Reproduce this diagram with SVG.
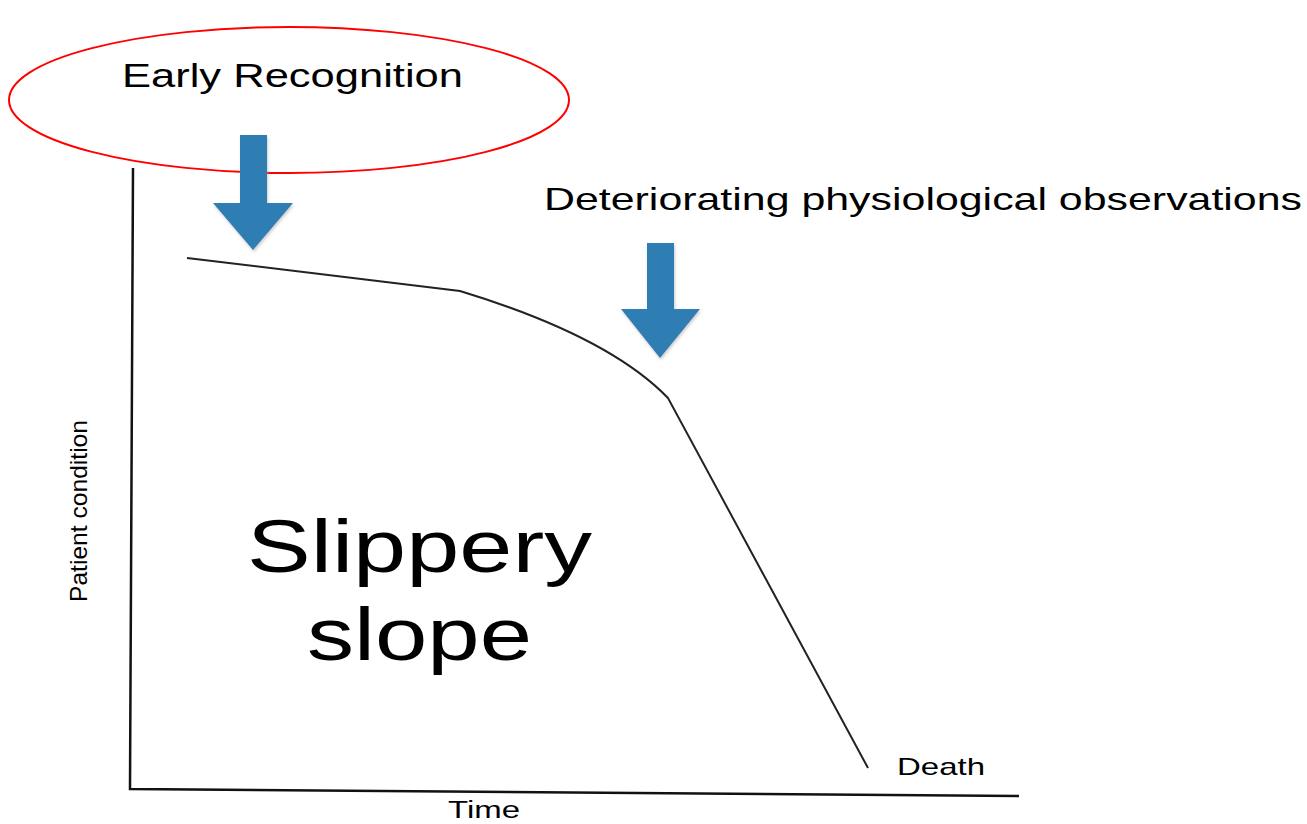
<svg xmlns="http://www.w3.org/2000/svg" width="1307" height="824" viewBox="0 0 1307 824">
<style>
text{font-family:"Liberation Sans",Arial,sans-serif;fill:#000}
.arrow{fill:#2e7db3;filter:url(#glow)}
.axis{stroke:#111;stroke-width:2.5;fill:none}
.curve{stroke:#222;stroke-width:2;fill:none}
</style>
<defs>
<filter id="glow" x="-20%" y="-20%" width="140%" height="140%">
<feDropShadow dx="1" dy="2" stdDeviation="1.5" flood-color="#999" flood-opacity="0.5"/>
</filter>
</defs>
<rect width="1307" height="824" fill="#fff"/>
<g id="axes">
<path class="axis" d="M133,168 L130,789 L1019,796"/>
</g>
<g id="connectors">
<path class="curve" d="M187,258 L460,291 Q608,336 668,398 L868,768"/>
</g>
<g id="early-recognition">
<ellipse cx="289" cy="100" rx="280" ry="73" fill="none" stroke="#f00" stroke-width="2"/>
<text x="122" y="87" font-size="33" textLength="341" lengthAdjust="spacingAndGlyphs">Early Recognition</text>
</g>
<g id="arrow-early">
<path class="arrow" d="M240,135 L267,135 L267,203 L293,203 L253,250 L213,203 L240,203 Z"/>
</g>
<g id="deteriorating">
<text x="544" y="210" font-size="32" textLength="758" lengthAdjust="spacingAndGlyphs">Deteriorating physiological observations</text>
</g>
<g id="arrow-deteriorating">
<path class="arrow" d="M647,243 L674,243 L674,309 L700,309 L660,358 L621,309 L647,309 Z"/>
</g>
<g id="slippery-slope">
<text x="247" y="572" font-size="74" textLength="345" lengthAdjust="spacingAndGlyphs">Slippery</text>
<text x="307" y="660" font-size="74" textLength="225" lengthAdjust="spacingAndGlyphs">slope</text>
</g>
<g id="y-label">
<text transform="translate(87,602) rotate(-90)" font-size="24" textLength="182" lengthAdjust="spacingAndGlyphs">Patient condition</text>
</g>
<g id="death">
<text x="897" y="775" font-size="24" textLength="88" lengthAdjust="spacingAndGlyphs">Death</text>
</g>
<g id="x-label">
<text x="448" y="818" font-size="23" textLength="72" lengthAdjust="spacingAndGlyphs">Time</text>
</g>
</svg>
